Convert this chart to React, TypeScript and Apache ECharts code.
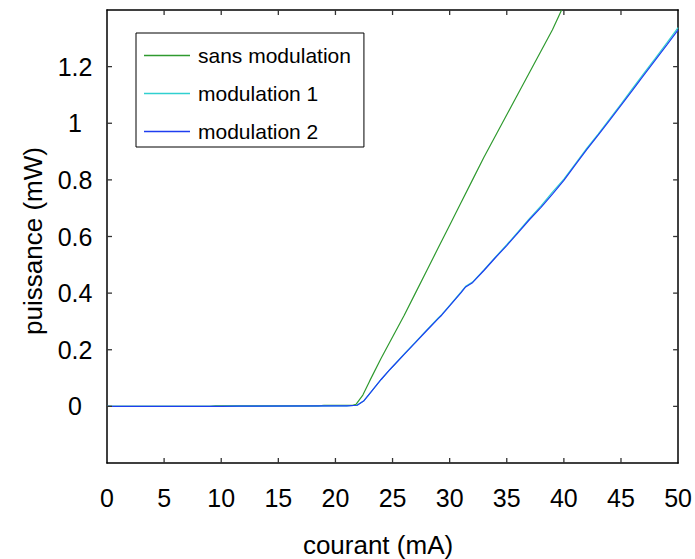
import React, { useEffect, useRef } from "react";
import * as echarts from "echarts";

const xTicks = [0, 5, 10, 15, 20, 25, 30, 35, 40, 45, 50];
const yTicks = [0, 0.2, 0.4, 0.6, 0.8, 1, 1.2];

const greenX = [0, 5, 9, 9.5, 15, 18.5, 19, 21.5, 21.8, 22.4, 23, 24, 25, 26, 27, 28, 29, 30, 31, 32, 33, 34, 35, 36, 37, 38, 39, 39.8];
const greenY = [0, 0, 0, 0.002, 0.002, 0.002, 0.004, 0.004, 0.007, 0.04, 0.09, 0.17, 0.245, 0.32, 0.4, 0.48, 0.56, 0.64, 0.72, 0.8, 0.88, 0.955, 1.03, 1.105, 1.18, 1.255, 1.33, 1.4];

const modX = [0, 10, 11.5, 20, 21, 21.9, 22.5, 23, 24, 24.7, 25, 26, 27, 28, 29, 29.3, 30, 31, 31.4, 32, 33, 34, 35, 36, 37, 38, 39, 40, 41, 42, 43, 44, 45, 46, 47, 48, 49, 50];
const mod1Y = [0, 0, 0.001, 0.002, 0.002, 0.004, 0.02, 0.045, 0.095, 0.127, 0.14, 0.184, 0.227, 0.27, 0.312, 0.324, 0.357, 0.404, 0.424, 0.439, 0.482, 0.527, 0.571, 0.617, 0.664, 0.708, 0.757, 0.803, 0.857, 0.911, 0.962, 1.015, 1.068, 1.122, 1.176, 1.229, 1.283, 1.338];
const mod2Y = [0, 0, 0.001, 0.002, 0.002, 0.004, 0.02, 0.045, 0.095, 0.127, 0.14, 0.183, 0.225, 0.268, 0.31, 0.322, 0.355, 0.402, 0.422, 0.437, 0.48, 0.525, 0.568, 0.614, 0.66, 0.703, 0.75, 0.798, 0.853, 0.907, 0.958, 1.01, 1.063, 1.116, 1.17, 1.223, 1.276, 1.33];

const seriesNames = ["sans modulation", "modulation 1", "modulation 2"];
const colors = ["#2f9a2f", "#30d0d0", "#1f3df0"];

const zip = (xs: number[], ys: number[]) => xs.map((x, i) => [x, ys[i]]);

const FONT = "Liberation Sans, Arial, Helvetica, sans-serif";
const X_MIN = 0, X_MAX = 50, Y_MIN = -0.2, Y_MAX = 1.4;

export default function App() {
  const ref = useRef<HTMLDivElement>(null);
  useEffect(() => {
    if (!ref.current) return;
    document.body.style.margin = "0";
    const chart = echarts.init(ref.current, undefined, { renderer: "svg" });
    const axisLine = () => ({ show: true, onZero: false, lineStyle: { color: "#000", width: 1.5 } });
    const noTick = { show: false };
    const yFmt = (v: number) => {
      if (v < -0.1 || v > 1.3) return "";
      return String(+v.toFixed(1));
    };
    const tickData = [
      ...xTicks.slice(1, -1).map((v) => [v, 0]),
      ...yTicks.map((v) => [v, 1]),
    ];
    const TL = 5;
    const tickStyle = { stroke: "#333", lineWidth: 1.3 };
    chart.setOption({
      animation: false,
      backgroundColor: "#fff",
      grid: { left: 107, right: 15, top: 10, bottom: 96, containLabel: false },
      xAxis: [
        {
          type: "value", min: X_MIN, max: X_MAX, interval: 5, position: "bottom",
          axisLine: axisLine(), axisTick: noTick, splitLine: { show: false },
          axisLabel: { margin: 22, fontSize: 25, fontFamily: FONT, color: "#000",
            formatter: (v: number) => (xTicks.includes(v) ? String(v) : "") },
        },
        {
          type: "value", min: X_MIN, max: X_MAX, interval: 5, position: "top",
          axisLine: axisLine(), axisTick: noTick, splitLine: { show: false }, axisLabel: { show: false },
        },
      ],
      yAxis: [
        {
          type: "value", min: Y_MIN, max: Y_MAX, interval: 0.2, position: "left",
          axisLine: axisLine(), axisTick: noTick, splitLine: { show: false },
          axisLabel: { margin: 32, align: "center", fontSize: 25, fontFamily: FONT, color: "#000", formatter: yFmt },
        },
        {
          type: "value", min: Y_MIN, max: Y_MAX, interval: 0.2, position: "right",
          axisLine: axisLine(), axisTick: noTick, splitLine: { show: false }, axisLabel: { show: false },
        },
      ],
      legend: {
        orient: "vertical", left: 136, top: 33,
        padding: [12, 13, 5, 8],
        icon: "rect",
        itemWidth: 46, itemHeight: 1.5, itemGap: 17,
        borderColor: "#000", borderWidth: 1, backgroundColor: "#fff",
        textStyle: { fontSize: 21, lineHeight: 21, fontFamily: FONT, color: "#000", padding: [0, 0, 0, 3] },
        data: seriesNames,
      },
      graphic: [
        { type: "text", x: 378, y: 545, style: { text: "courant (mA)", font: `26px ${FONT}`, fill: "#000", textAlign: "center", textVerticalAlign: "middle" } },
        { type: "text", x: 33, y: 241, rotation: Math.PI / 2, style: { text: "puissance (mW)", font: `26px ${FONT}`, fill: "#000", textAlign: "center", textVerticalAlign: "middle" } },
      ],
      series: [
        {
          name: "ticks", type: "custom", silent: true, clip: false, z: 5,
          xAxisIndex: 0, yAxisIndex: 0,
          data: tickData,
          renderItem: (params: any, api: any) => {
            const v = api.value(0);
            const kind = api.value(1);
            if (kind === 0) {
              const b = api.coord([v, Y_MIN]);
              const t = api.coord([v, Y_MAX]);
              return {
                type: "group",
                children: [
                  { type: "line", shape: { x1: b[0], y1: b[1], x2: b[0], y2: b[1] - TL }, style: tickStyle },
                  { type: "line", shape: { x1: t[0], y1: t[1], x2: t[0], y2: t[1] + TL }, style: tickStyle },
                ],
              };
            }
            const l = api.coord([X_MIN, v]);
            const r = api.coord([X_MAX, v]);
            return {
              type: "group",
              children: [
                { type: "line", shape: { x1: l[0], y1: l[1], x2: l[0] + TL, y2: l[1] }, style: tickStyle },
                { type: "line", shape: { x1: r[0], y1: r[1], x2: r[0] - TL, y2: r[1] }, style: tickStyle },
              ],
            };
          },
        },
        { name: seriesNames[0], type: "line", data: zip(greenX, greenY), symbol: "none", color: colors[0], lineStyle: { width: 1.2, color: colors[0] } },
        { name: seriesNames[1], type: "line", data: zip(modX, mod1Y), symbol: "none", color: colors[1], lineStyle: { width: 1.2, color: colors[1] } },
        { name: seriesNames[2], type: "line", data: zip(modX, mod2Y), symbol: "none", color: colors[2], lineStyle: { width: 1.2, color: colors[2] } },
      ],
    });
    return () => chart.dispose();
  }, []);
  return <div ref={ref} style={{ width: 695, height: 559 }} />;
}
